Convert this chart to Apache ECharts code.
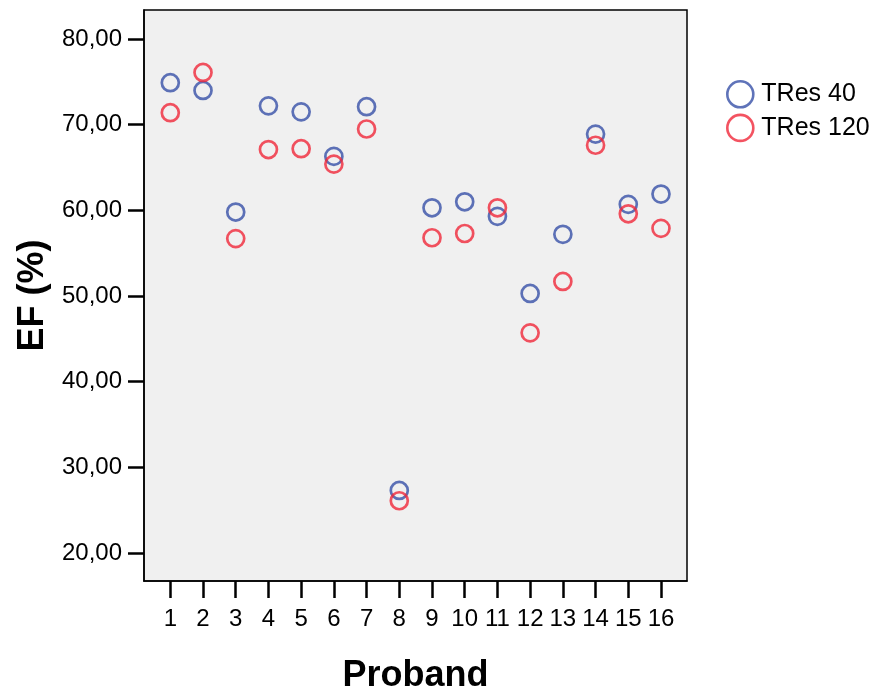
<!DOCTYPE html>
<html><head><meta charset="utf-8">
<script src="https://cdn.jsdelivr.net/npm/echarts@6/dist/echarts.min.js"></script>
<style>html,body{margin:0;padding:0;background:#fff}#c{width:876px;height:691px}</style>
</head><body><div id="c"></div>
<script>
var probands = [1,2,3,4,5,6,7,8,9,10,11,12,13,14,15,16];
var tres40 = [74.9,74.0,59.8,72.2,71.5,66.3,72.1,27.3,60.3,61.0,59.3,50.3,57.2,68.9,60.7,61.9];
var tres120 = [71.4,76.1,56.7,67.1,67.2,65.4,69.5,26.1,56.8,57.3,60.3,45.7,51.7,67.6,59.6,57.9];
var yTicks = [20,30,40,50,60,70,80];
var seriesNames = ['TRes 40','TRes 120'];
var colors = ['#3750a8','#f0283a'];

var chart = echarts.init(document.getElementById('c'), null, {renderer:'canvas'});
function pairs(vals){ return probands.map(function(p,i){ return [p, vals[i]]; }); }
var font = 'Liberation Sans, Arial, sans-serif';
chart.setOption({
  animation:false,
  backgroundColor:'#ffffff',
  grid:{left:144, top:10, width:543, height:571, show:true, backgroundColor:'#f0f0f0', borderColor:'#000', borderWidth:1.5, containLabel:false, outerBoundsMode:'none'},
  legend:{
    orient:'vertical', left:726, top:80, padding:0, itemWidth:26, itemHeight:26, itemGap:5,
    textStyle:{fontFamily:font, fontSize:25, lineHeight:26, color:'#000', padding:[0,0,0,3]},
    data: seriesNames.map(function(n,i){ return {name:n, icon:'circle', itemStyle:{color:'rgba(0,0,0,0)', borderColor:colors[i], borderWidth:2.6}}; })
  },
  xAxis:{
    type:'value', min:0.196, max:16.795,
    name:'Proband', nameLocation:'middle', nameGap:77,
    nameTextStyle:{fontFamily:font, fontSize:36, fontWeight:'bold', color:'#000'},
    axisLine:{show:true, lineStyle:{color:'#000', width:1.5}},
    axisTick:{show:true, length:17, lineStyle:{color:'#000', width:2.5}, customValues:probands},
    axisLabel:{fontFamily:font, fontSize:24, color:'#000', margin:26, customValues:probands},
    splitLine:{show:false}
  },
  yAxis:{
    type:'value', min:16.73, max:83.39,
    name:'EF (%)', nameLocation:'middle', nameGap:93, nameRotate:90,
    nameTextStyle:{fontFamily:font, fontSize:36, fontWeight:'bold', color:'#000'},
    axisLine:{show:true, lineStyle:{color:'#000', width:1.5}},
    axisTick:{show:true, length:16, lineStyle:{color:'#000', width:2.5}, customValues:yTicks},
    axisLabel:{fontFamily:font, fontSize:24, color:'#000', margin:22, customValues:yTicks,
      formatter:function(v){ return v.toFixed(2).replace('.', ','); }},
    splitLine:{show:false}
  },
  series:[
    {name:seriesNames[0], type:'scatter', data:pairs(tres40), symbol:'circle', symbolSize:17,
     itemStyle:{color:'rgba(0,0,0,0)', borderColor:colors[0], borderWidth:2.7}},
    {name:seriesNames[1], type:'scatter', data:pairs(tres120), symbol:'circle', symbolSize:17,
     itemStyle:{color:'rgba(0,0,0,0)', borderColor:colors[1], borderWidth:2.7}}
  ]
});
</script></body></html>
